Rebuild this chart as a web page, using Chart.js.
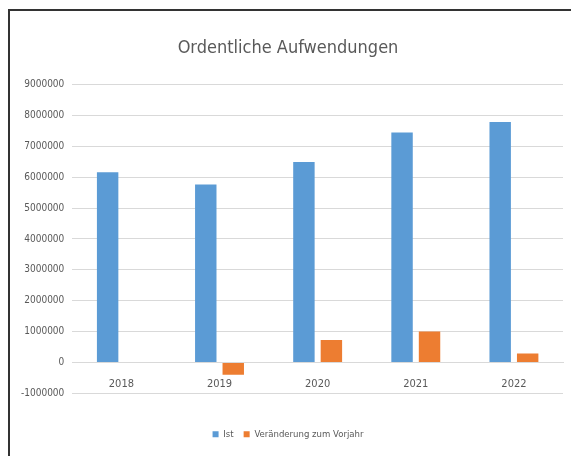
<!DOCTYPE html>
<html>
<head>
<meta charset="utf-8">
<script src="https://cdn.jsdelivr.net/npm/chart.js@4"></script>
<style>
  html, body { margin: 0; padding: 0; background: #fff; }
  #wrap { position: relative; width: 571px; height: 456px; overflow: hidden; }
  #frame { position: absolute; left: 8px; top: 9px; width: 600px; height: 500px;
           border-left: 2px solid #333; border-top: 2px solid #333; pointer-events: none; }
  canvas { position: absolute; left: 0; top: 0; }
</style>
</head>
<body>
<div id="wrap">
  <canvas id="chart" width="571" height="456"></canvas>
  <div id="frame"></div>
</div>
<script>
const years = ['2018', '2019', '2020', '2021', '2022'];
const ist = [6160000, 5760000, 6490000, 7450000, 7790000];
const change = [0, -400000, 730000, 1000000, 290000];
const yMin = -1000000;
const yMax = 9000000;
const yStep = 1000000;

const font = "'Liberation Sans Narrow', 'DejaVu Sans Condensed', sans-serif";
const grey = '#595959';

new Chart(document.getElementById('chart').getContext('2d'), {
  type: 'bar',
  data: {
    labels: years,
    datasets: [
      {
        label: 'Ist',
        data: ist,
        backgroundColor: '#5B9BD5',
        categoryPercentage: 0.56,
        barPercentage: 0.78
      },
      {
        label: 'Veränderung zum Vorjahr',
        data: change,
        backgroundColor: '#ED7D31',
        categoryPercentage: 0.56,
        barPercentage: 0.78
      }
    ]
  },
  options: {
    responsive: false,
    animation: false,
    layout: { padding: { left: 13, right: 8, top: 0, bottom: 7 } },
    plugins: {
      title: {
        display: true,
        text: 'Ordentliche Aufwendungen',
        color: grey,
        font: { family: font, size: 18, weight: 'normal' },
        padding: { top: 38, bottom: 25 }
      },
      legend: {
        position: 'bottom',
        // empty title only pushes the plot up, as the x axis sits at zero
        title: { display: true, text: '', font: { size: 1 }, padding: { top: 0, bottom: 25 } },
        labels: {
          color: grey,
          font: { family: font, size: 9.5 },
          boxWidth: 6,
          boxHeight: 6,
          padding: 10
        }
      },
      tooltip: { enabled: false }
    },
    scales: {
      x: {
        position: { y: 0 },
        grid: { display: false, drawTicks: false },
        border: { display: true, color: '#d9d9d9' },
        ticks: { color: grey, font: { family: font, size: 11 }, padding: 15 }
      },
      y: {
        min: yMin,
        max: yMax,
        grid: { color: '#d9d9d9', drawTicks: false },
        border: { display: false },
        ticks: {
          stepSize: yStep,
          color: grey,
          font: { family: font, size: 10 },
          padding: 8,
          callback: v => String(v)
        }
      }
    }
  }
});
</script>
</body>
</html>
